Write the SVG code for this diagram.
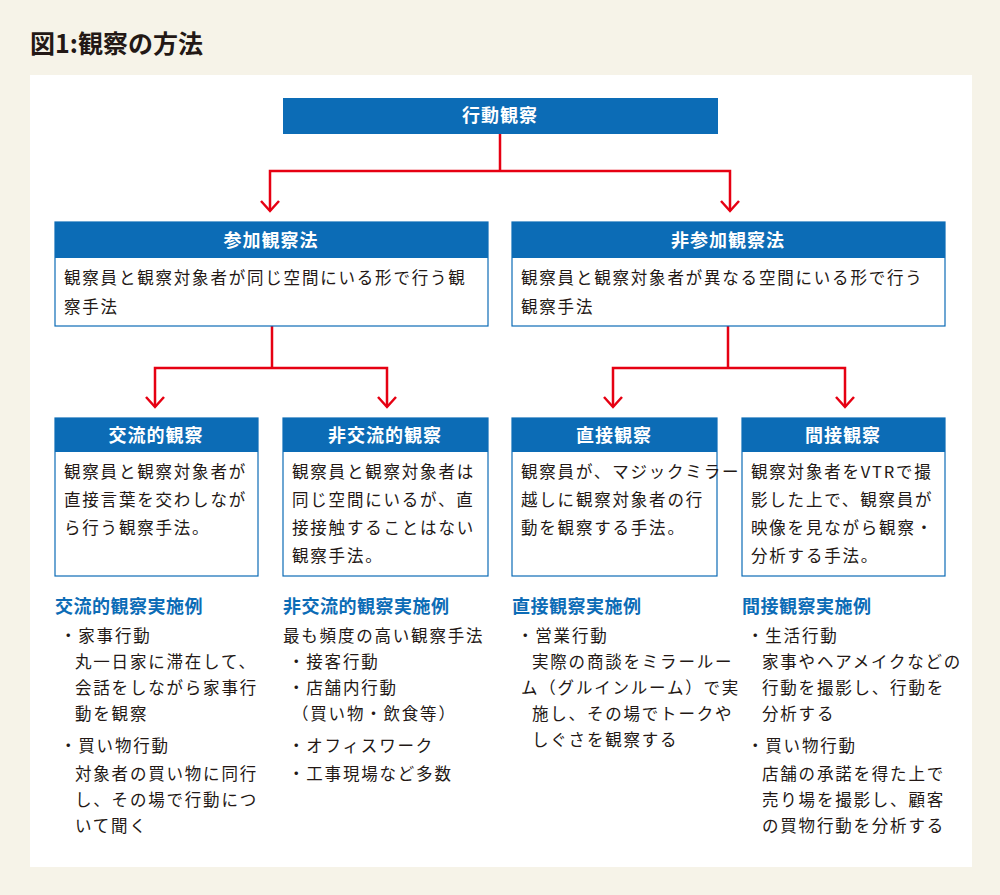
<svg xmlns="http://www.w3.org/2000/svg" width="1000" height="895" viewBox="0 0 1000 895">
<style>
text{font-family:"Noto Sans CJK JP","Noto Sans CJK SC",sans-serif;fill:#231815}
.h{fill:#0c6cb6}
.b{fill:#fff;stroke:#0c6cb6;stroke-width:1.2}
.ht{fill:#fff;font-size:18px;font-weight:bold;text-anchor:middle;letter-spacing:1px}
.t{font-size:16.5px;letter-spacing:1.8px}
.ex{font-size:18px;font-weight:bold;fill:#0c6cb6;letter-spacing:0.5px}
.c{fill:none;stroke:#e60012;stroke-width:2.5}
</style>
<rect width="1000" height="895" fill="#f6f3e8"/>
<rect x="30" y="75" width="942" height="792" fill="#fff"/>
<text x="30" y="53" font-size="25" font-weight="bold">図1:観察の方法</text>
<g id="connectors" class="c">
<path d="M500 134V171H270V211M500 171H730V211"/>
<path d="M261 201L270 211L279 201M721 201L730 211L739 201"/>
<path d="M272 326V368H155V407M272 368H387V407M728 326V368H613V407M728 368H845V407"/>
<path d="M146 397L155 407L164 397M378 397L387 407L396 397M604 397L613 407L622 397M836 397L845 407L854 397"/>
</g>
<g id="top"><rect class="h" x="283" y="98" width="435" height="36"/><text class="ht" x="500" y="122">行動観察</text></g>
<g id="sanka"><rect class="b" x="55" y="222" width="433" height="104"/><rect class="h" x="55" y="222" width="433" height="36"/><text class="ht" x="271" y="247">参加観察法</text>
<text class="t" x="64" y="284">観察員と観察対象者が同じ空間にいる形で行う観</text><text class="t" x="64" y="313">察手法</text></g>
<g id="hisanka"><rect class="b" x="512" y="222" width="433" height="104"/><rect class="h" x="512" y="222" width="433" height="36"/><text class="ht" x="728" y="247">非参加観察法</text>
<text class="t" x="521" y="284">観察員と観察対象者が異なる空間にいる形で行う</text><text class="t" x="521" y="313">観察手法</text></g>
<g id="koryu"><rect class="b" x="55" y="418" width="203" height="158"/><rect class="h" x="55" y="418" width="203" height="34"/><text class="ht" x="156" y="442">交流的観察</text>
<text class="t" x="64" y="478">観察員と観察対象者が</text><text class="t" x="64" y="506">直接言葉を交わしなが</text><text class="t" x="64" y="534">ら行う観察手法。</text></g>
<g id="hikoryu"><rect class="b" x="283" y="418" width="205" height="158"/><rect class="h" x="283" y="418" width="205" height="34"/><text class="ht" x="385" y="442">非交流的観察</text>
<text class="t" x="292" y="478">観察員と観察対象者は</text><text class="t" x="292" y="506">同じ空間にいるが、直</text><text class="t" x="292" y="534">接接触することはない</text><text class="t" x="292" y="562">観察手法。</text></g>
<g id="chokusetsu"><rect class="b" x="512" y="418" width="205" height="158"/><rect class="h" x="512" y="418" width="205" height="34"/><text class="ht" x="614" y="442">直接観察</text>
<text class="t" x="521" y="478" letter-spacing="0.5">観察員が、マジックミラー</text><text class="t" x="521" y="506">越しに観察対象者の行</text><text class="t" x="521" y="534">動を観察する手法。</text></g>
<g id="kansetsu"><rect class="b" x="742" y="418" width="203" height="158"/><rect class="h" x="742" y="418" width="203" height="34"/><text class="ht" x="843" y="442">間接観察</text>
<text class="t" x="751" y="478">観察対象者をVTRで撮</text><text class="t" x="751" y="506">影した上で、観察員が</text><text class="t" x="751" y="534">映像を見ながら観察・</text><text class="t" x="751" y="562">分析する手法。</text></g>
<g id="ex1"><text class="ex" x="55" y="613">交流的観察実施例</text>
<text class="t" x="60" y="642">・家事行動</text><text class="t" x="75" y="668">丸一日家に滞在して、</text><text class="t" x="75" y="694">会話をしながら家事行</text><text class="t" x="75" y="720">動を観察</text>
<text class="t" x="60" y="752">・買い物行動</text><text class="t" x="75" y="780">対象者の買い物に同行</text><text class="t" x="75" y="806">し、その場で行動につ</text><text class="t" x="75" y="832">いて聞く</text></g>
<g id="ex2"><text class="ex" x="283" y="613">非交流的観察実施例</text>
<text class="t" x="283" y="642" letter-spacing="0.5">最も頻度の高い観察手法</text><text class="t" x="288" y="668">・接客行動</text><text class="t" x="288" y="694">・店舗内行動</text><text class="t" x="292" y="720" letter-spacing="0.5">（買い物・飲食等）</text><text class="t" x="288" y="752">・オフィスワーク</text><text class="t" x="288" y="780">・工事現場など多数</text></g>
<g id="ex3"><text class="ex" x="512" y="613">直接観察実施例</text>
<text class="t" x="517" y="642">・営業行動</text><text class="t" x="532" y="668" letter-spacing="0.6">実際の商談をミラールー</text><text class="t" x="521" y="694" letter-spacing="0.2">ム（グルインルーム）で実</text><text class="t" x="532" y="720" letter-spacing="0.6">施し、その場でトークや</text><text class="t" x="532" y="746">しぐさを観察する</text></g>
<g id="ex4"><text class="ex" x="742" y="613">間接観察実施例</text>
<text class="t" x="747" y="642">・生活行動</text><text class="t" x="762" y="668" letter-spacing="0.6">家事やヘアメイクなどの</text><text class="t" x="762" y="694">行動を撮影し、行動を</text><text class="t" x="762" y="720">分析する</text>
<text class="t" x="747" y="752">・買い物行動</text><text class="t" x="762" y="780">店舗の承諾を得た上で</text><text class="t" x="762" y="806">売り場を撮影し、顧客</text><text class="t" x="762" y="832">の買物行動を分析する</text></g>
</svg>
